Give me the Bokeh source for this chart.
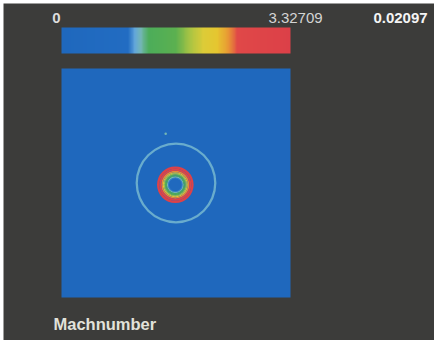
import numpy as np
from bokeh.plotting import figure
from bokeh.models import Range1d, LinearColorMapper, ColumnDataSource, Spacer
from bokeh.layouts import column, row
from bokeh.core.properties import value
from bokeh.embed import file_html
from bokeh.resources import INLINE

# ---- data ----
mach_min = 0.0
mach_max = 3.32709
time_value = "0.02097"
quantity = "Machnumber"

# domain of the field
x_min, x_max = -1.0, 1.0
y_min, y_max = -1.0, 1.0
background_mach = 0.05

# outer (shock) ring
shock_cx, shock_cy = 0.0, 0.0
shock_inner = [0.333]
shock_outer = [0.353]
shock_mach = [1.10]

# inner blast disk: ring edges and Mach values
disk_cx, disk_cy = -0.006, -0.015
disk_inner = [0.000, 0.055, 0.064, 0.0742, 0.083, 0.0917, 0.1004, 0.1092, 0.1223, 0.1397]
disk_outer = [0.055, 0.064, 0.0742, 0.083, 0.0917, 0.1004, 0.1092, 0.1223, 0.1397, 0.160]
disk_mach  = [0.25, 1.00, 1.15, 1.35, 1.55, 1.85, 2.10, 2.45, 2.85, 3.15]

# small isolated speck
speck_x = [-0.09]
speck_y = [0.43]
speck_r = [0.011]
speck_mach = [1.15]

# ---- colour scale ----
anchors = [
    (0.00, (0x1f, 0x68, 0xbd)),
    (0.29, (0x22, 0x6c, 0xc2)),
    (0.32, (0x62, 0xa6, 0xdc)),
    (0.345, (0x74, 0xb6, 0xb4)),
    (0.38, (0x4c, 0xad, 0x5a)),
    (0.50, (0x5c, 0xb0, 0x50)),
    (0.56, (0xa8, 0xc4, 0x44)),
    (0.62, (0xdc, 0xcc, 0x38)),
    (0.68, (0xe6, 0xc6, 0x30)),
    (0.73, (0xe8, 0x98, 0x34)),
    (0.77, (0xe0, 0x48, 0x48)),
    (1.00, (0xdc, 0x40, 0x48)),
]
fr = np.array([a[0] for a in anchors])
cols = np.array([a[1] for a in anchors], dtype=float)
palette = []
for tt in np.linspace(0, 1, 256):
    rgb = [int(round(np.interp(tt, fr, cols[:, k]))) for k in range(3)]
    palette.append("#%02x%02x%02x" % tuple(rgb))
mapper = LinearColorMapper(palette=palette, low=mach_min, high=mach_max)

# ---- layout constants (pixels on the canvas) ----
W, H = 431, 337
FL, FR_, FT, FB = 58, 287, 65, 294      # field square
CBT, CBB = 24, 50                        # colour bar top/bottom
ppu = (FR_ - FL) / (x_max - x_min)       # pixels per field unit
x_rng = (x_min - FL / ppu, x_max + (W - FR_) / ppu)
y_rng = (y_min - (H - FB) / ppu, y_max + FT / ppu)
mpp = (mach_max - mach_min) / (FR_ - FL)  # mach per pixel along the bar
m_rng = (mach_min - FL * mpp, mach_max + (W - FR_) * mpp)

def ypix(py):
    return y_max + (FT - py) / ppu

DARK = "#3c3c3a"
FONT = "Liberation Sans"

p = figure(width=W, height=H, output_backend="svg", toolbar_location=None,
           x_range=Range1d(*x_rng), y_range=Range1d(*y_rng),
           min_border=0, x_axis_location=None, y_axis_location=None)
p.extra_x_ranges = {"mach": Range1d(*m_rng)}
p.grid.visible = False
p.outline_line_color = None
p.border_fill_color = DARK
p.background_fill_color = DARK

# colour bar
p.image(image=[np.linspace(mach_min, mach_max, 256)[None, :]], x=mach_min, y=ypix(CBB),
        dw=mach_max - mach_min, dh=(CBB - CBT) / ppu, color_mapper=mapper,
        x_range_name="mach")

# field background
bg = ColumnDataSource(dict(l=[x_min], r=[x_max], b=[y_min], t=[y_max], v=[background_mach]))
p.quad(left="l", right="r", bottom="b", top="t", source=bg,
       fill_color={"field": "v", "transform": mapper}, line_color=None)

shock = ColumnDataSource(dict(x=[shock_cx] * len(shock_inner), y=[shock_cy] * len(shock_inner),
                              ri=shock_inner, ro=shock_outer, v=shock_mach))
p.annulus(x="x", y="y", inner_radius="ri", outer_radius="ro", source=shock,
          fill_color={"field": "v", "transform": mapper}, line_color=None)

disk = ColumnDataSource(dict(x=[disk_cx] * len(disk_inner), y=[disk_cy] * len(disk_inner),
                             ri=disk_inner, ro=disk_outer, v=disk_mach))
p.annulus(x="x", y="y", inner_radius="ri", outer_radius="ro", source=disk,
          fill_color={"field": "v", "transform": mapper}, line_color=None)

sp = ColumnDataSource(dict(x=speck_x, y=speck_y, r=speck_r, v=speck_mach))
p.circle(x="x", y="y", radius="r", source=sp,
         fill_color={"field": "v", "transform": mapper}, line_color=None)

# texts
label_y = ypix(14)
tick_src = ColumnDataSource(dict(x=[mach_min], y=[label_y], t=[f"{mach_min:g}"]))
p.text(x="x", y="y", text="t", source=tick_src, x_range_name="mach", x_offset=-5,
       text_align="center", text_baseline="alphabetic", text_font=value(FONT),
       text_font_size="15px", text_font_style="bold", text_color="#dcdcdc")
tick_src2 = ColumnDataSource(dict(x=[mach_max], y=[label_y], t=[f"{mach_max:g}"]))
p.text(x="x", y="y", text="t", source=tick_src2, x_range_name="mach", x_offset=5,
       text_align="center", text_baseline="alphabetic", text_font=value(FONT),
       text_font_size="15px", text_color="#d4d4d4")
time_src = ColumnDataSource(dict(x=[mach_min + (397 - FL) * mpp], y=[label_y], t=[time_value]))
p.text(x="x", y="y", text="t", source=time_src, x_range_name="mach",
       text_align="center", text_baseline="alphabetic", text_font=value(FONT),
       text_font_size="15px", text_font_style="bold", text_color="#f4f4f4")
q_src = ColumnDataSource(dict(x=[x_min - 8 / ppu], y=[ypix(320)], t=[quantity]))
p.text(x="x", y="y", text="t", source=q_src,
       text_align="left", text_baseline="alphabetic", text_font=value(FONT),
       text_font_size="16.5px", text_font_style="bold", text_color="#e2e2da")

layout = row(Spacer(width=3, height=H), column(Spacer(width=W, height=3), p))
open("out.html", "w").write(file_html(layout, INLINE))
